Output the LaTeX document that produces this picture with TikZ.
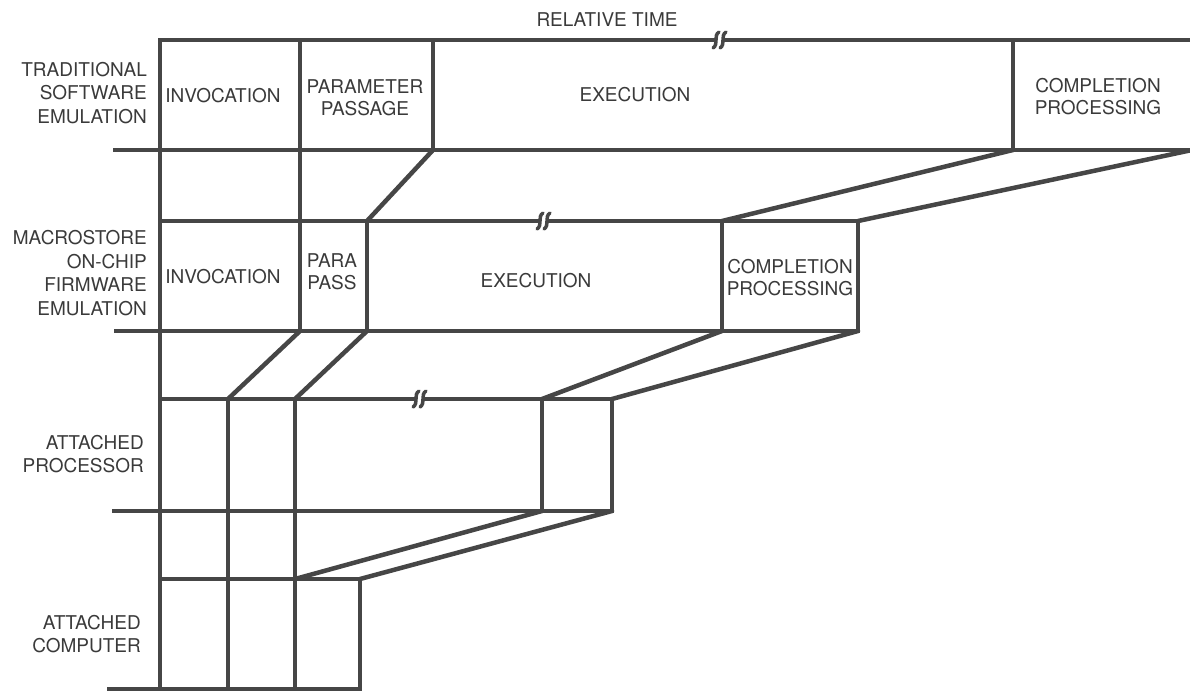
\documentclass[tikz,border=0pt]{standalone}
\usepackage{fontspec}
\setmainfont{TeX Gyre Heros}
\definecolor{inkc}{HTML}{464646}
\definecolor{txtc}{HTML}{3a3a3a}
\newcommand\breakmark[2]{%
  \draw[line width=3.5pt, draw=inkc, line cap=round] (#1-6,#2+8) .. controls (#1,#2+4) and (#1-6,#2-4) .. (#1,#2-8);
  \draw[line width=3.5pt, draw=inkc, line cap=round] (#1+1,#2+8) .. controls (#1+7,#2+4) and (#1+1,#2-4) .. (#1+7,#2-8);}
\begin{document}
\begin{tikzpicture}[x=1pt,y=-1pt,
  ln/.style={line width=4.5pt, draw=inkc, line cap=rect},
  cell/.style={font=\fontsize{19}{22}\selectfont, text=txtc, align=center, inner sep=0pt},
  side/.style={font=\fontsize{19}{23.5}\selectfont, text=txtc, align=right, inner sep=0pt, anchor=east}]
\useasboundingbox (0,0) rectangle (1190,691);
% row 1
\coordinate (a1) at (160,40);   \coordinate (b1) at (300,40);   \coordinate (c1) at (433,40);
\coordinate (d1) at (1013,40);  \coordinate (e1) at (1192,40);
\coordinate (a1b) at (160,150); \coordinate (b1b) at (300,150); \coordinate (c1b) at (433,150);
\coordinate (d1b) at (1013,150);\coordinate (e1b) at (1192,150);\coordinate (l1) at (115,150);
\coordinate (g1l) at (713,40);  \coordinate (g1r) at (726,40);
% row 2
\coordinate (a2) at (160,221);  \coordinate (b2) at (300,221);  \coordinate (c2) at (367,221);
\coordinate (d2) at (722,221);  \coordinate (e2) at (858,221);
\coordinate (a2b) at (160,331); \coordinate (b2b) at (300,331); \coordinate (c2b) at (367,331);
\coordinate (d2b) at (722,331); \coordinate (e2b) at (858,331); \coordinate (l2) at (116,331);
\coordinate (g2l) at (537,221); \coordinate (g2r) at (550,221);
% row 3
\coordinate (a3) at (160,399);  \coordinate (b3) at (228,399);  \coordinate (c3) at (295,399);
\coordinate (d3) at (542,399);  \coordinate (e3) at (612,399);
\coordinate (a3b) at (160,511); \coordinate (b3b) at (228,511); \coordinate (c3b) at (295,511);
\coordinate (d3b) at (542,511); \coordinate (e3b) at (612,511); \coordinate (l3) at (114,511);
\coordinate (g3l) at (413,399); \coordinate (g3r) at (426,399);
% row 4
\coordinate (a4) at (160,579);  \coordinate (b4) at (228,579);  \coordinate (c4) at (295,579);
\coordinate (e4) at (360,579);
\coordinate (a4b) at (160,689); \coordinate (b4b) at (228,689); \coordinate (c4b) at (295,689);
\coordinate (e4b) at (360,689); \coordinate (l4) at (109,689);

% horizontals
\draw[ln] (a1) -- (g1l); \draw[ln] (g1r) -- (e1);
\draw[ln] (l1) -- (e1b);
\draw[ln] (a2) -- (g2l); \draw[ln] (g2r) -- (e2);
\draw[ln] (l2) -- (e2b);
\draw[ln] (a3) -- (g3l); \draw[ln] (g3r) -- (e3);
\draw[ln] (l3) -- (e3b);
\draw[ln] (a4) -- (e4);
\draw[ln] (l4) -- (e4b);
% break marks
\breakmark{719}{40}
\breakmark{543}{221}
\breakmark{419}{399}
% verticals
\draw[ln] (a1) -- (a4b);
\draw[ln] (b1) -- (b2b);
\draw[ln] (c1) -- (c1b);
\draw[ln] (d1) -- (d1b);
\draw[ln] (c2) -- (c2b);
\draw[ln] (d2) -- (d2b);
\draw[ln] (e2) -- (e2b);
\draw[ln] (b3) -- (b4b);
\draw[ln] (c3) -- (c4b);
\draw[ln] (d3) -- (d3b);
\draw[ln] (e3) -- (e3b);
\draw[ln] (e4) -- (e4b);
% slanted connectors
\draw[ln,line cap=round] (c1b) -- (c2);
\draw[ln,line cap=round] (d1b) -- (d2);
\draw[ln,line cap=round] (e1b) -- (e2);
\draw[ln,line cap=round] (b2b) -- (b3);
\draw[ln,line cap=round] (c2b) -- (c3);
\draw[ln,line cap=round] (d2b) -- (d3);
\draw[ln,line cap=round] (e2b) -- (e3);
\draw[ln,line cap=round] (d3b) -- (c4);
\draw[ln,line cap=round] (e3b) -- (e4);

% texts
\node[cell] (title) at (607,20) {RELATIVE TIME};
\node[side] (trad) at (147,93) {TRADITIONAL\\SOFTWARE\\EMULATION};
\node[side] (macro) at (147,273) {MACROSTORE\\ON-CHIP\\FIRMWARE\\EMULATION};
\node[side] (ap) at (144,454) {ATTACHED\\PROCESSOR};
\node[side] (ac) at (141,634) {ATTACHED\\COMPUTER};
\node[cell] (inv1) at (223,96) {INVOCATION};
\node[cell] (par1) at (365,98) {PARAMETER\\PASSAGE};
\node[cell] (exe1) at (635,95) {EXECUTION};
\node[cell] (com1) at (1098,97) {COMPLETION\\PROCESSING};
\node[cell] (inv2) at (223,277) {INVOCATION};
\node[cell] (par2) at (332,272) {PARA\\PASS};
\node[cell] (exe2) at (536,281) {EXECUTION};
\node[cell] (com2) at (790,278) {COMPLETION\\PROCESSING};
\end{tikzpicture}
\end{document}
